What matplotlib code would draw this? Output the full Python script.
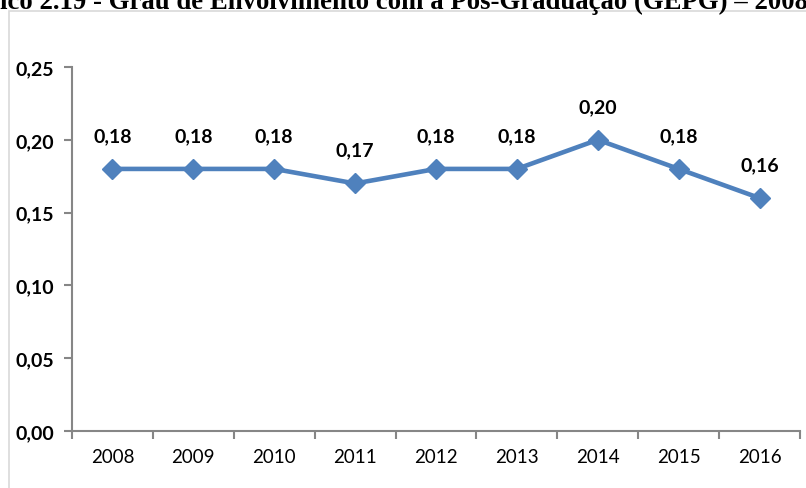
import matplotlib
matplotlib.use("Agg")
import matplotlib.pyplot as plt
from matplotlib.patches import Rectangle

anos = ["2008", "2009", "2010", "2011", "2012", "2013", "2014", "2015", "2016"]
gepg = [0.18, 0.18, 0.18, 0.17, 0.18, 0.18, 0.20, 0.18, 0.16]
yticks = [0.00, 0.05, 0.10, 0.15, 0.20, 0.25]
titulo = "Gráfico 2.19 - Grau de Envolvimento com a Pós-Graduação (GEPG) – 2008-2016"

W, H = 806, 489
fig = plt.figure(figsize=(W / 100, H / 100), dpi=100)
plt.rcParams["font.family"] = ["Lato", "DejaVu Sans"]

# moldura cinza da área do gráfico (cortada à direita e embaixo)
fig.patches.append(Rectangle((8.5 / W, -0.2), 1.2, (H - 12) / H + 0.2,
                             transform=fig.transFigure, fill=False,
                             edgecolor="#d9d9d9", lw=1.2, clip_on=False))

# título cortado no topo, como no original
r = fig.canvas.get_renderer()
t = fig.text(0, 0, "ico 2.19 - Grau de Envolvimento com a Pós-Graduação (GEPG) – 2008",
             family="Liberation Serif", weight="bold", fontsize=10)
w10 = t.get_window_extent(r).width
fs = 10 * W / w10
t.remove()
p = fig.text(0, 0, "Gráf", family="Liberation Serif", weight="bold", fontsize=fs)
wp = p.get_window_extent(r).width
p.remove()
fig.text(-wp / W, (H - 9) / H, titulo, family="Liberation Serif", weight="bold",
         fontsize=fs, ha="left", va="baseline")

ax = fig.add_axes([72 / W, (H - 432) / H, (800 - 72) / W, (432 - 68) / H])
x = list(range(len(anos)))
ax.plot(x, gepg, color="#4f81bd", lw=3.3, marker="D", markersize=10,
        solid_joinstyle="round", clip_on=False, zorder=3)
for xi, v in zip(x, gepg):
    ax.annotate(f"{v:.2f}".replace(".", ","), (xi, v), xytext=(0, 18),
                textcoords="offset points", ha="center", va="bottom",
                fontsize=14, weight="bold")

ax.set_xlim(-0.5, len(anos) - 0.5)
ax.set_ylim(0, 0.25)
ax.set_yticks(yticks)
ax.set_yticklabels([f"{v:.2f}".replace(".", ",") for v in yticks],
                   fontsize=14, weight="bold")
ax.set_xticks(x)
ax.set_xticklabels(anos, fontsize=13.5)
ax.set_xticks([i - 0.5 for i in range(len(anos) + 1)], minor=True)
ax.tick_params(axis="x", which="major", length=0, pad=12)
ax.tick_params(axis="x", which="minor", length=6, color="#868686", width=1.5)
ax.tick_params(axis="y", length=6, color="#868686", width=1.5, pad=7)
for s in ["top", "right"]:
    ax.spines[s].set_visible(False)
for s in ["left", "bottom"]:
    ax.spines[s].set_color("#868686")
    ax.spines[s].set_linewidth(1.5)

fig.savefig("out.png", dpi=100)
